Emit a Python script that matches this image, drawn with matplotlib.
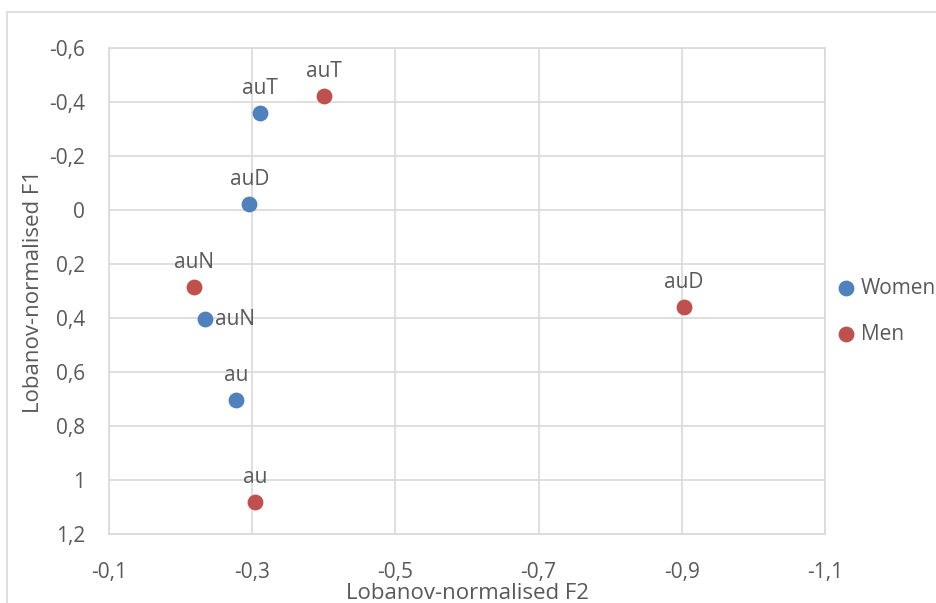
import matplotlib
matplotlib.use('Agg')
import matplotlib.pyplot as plt
from matplotlib.patches import Rectangle
from matplotlib.ticker import FuncFormatter

plt.rcParams['font.family'] = ['Open Sans', 'DejaVu Sans']

# Lobanov-normalised vowel formants
labels = ['au', 'auN', 'auD', 'auT']
women_f2 = [-0.277, -0.234, -0.296, -0.311]
women_f1 = [0.704, 0.404, -0.022, -0.359]
men_f2 = [-0.304, -0.219, -0.903, -0.400]
men_f1 = [1.081, 0.285, 0.359, -0.422]

x_ticks = [-0.1, -0.3, -0.5, -0.7, -0.9, -1.1]
y_ticks = [-0.6, -0.4, -0.2, 0, 0.2, 0.4, 0.6, 0.8, 1.0, 1.2]

blue = '#4F81BD'
red = '#C0504D'
text_grey = '#595959'
grid_grey = '#D9D9D9'


def comma_fmt(v, pos):
    s = '%g' % round(v, 2)
    return s.replace('.', ',')


fig = plt.figure(figsize=(9.37, 6.03), dpi=100)
ax = fig.add_axes([0.1163, 0.1144, 0.7642, 0.8060])

# outer chart border (runs off the right and bottom edge)
fig.patches.append(Rectangle((7 / 937, -0.05), 1.0, 1 - 12 / 603 + 0.05,
                             transform=fig.transFigure, fill=False,
                             edgecolor=grid_grey, lw=1.2))

ax.scatter(women_f2, women_f1, s=130, color=blue, label='Women', zorder=3, linewidths=0)
ax.scatter(men_f2, men_f1, s=130, color=red, label='Men', zorder=3, linewidths=0)

for lab, x, y in zip(labels, women_f2, women_f1):
    if lab == 'auN':
        ax.annotate(lab, (x, y), xytext=(7, 0), textcoords='offset points',
                    ha='left', va='center', fontsize=15, color=text_grey)
    else:
        ax.annotate(lab, (x, y), xytext=(0, 10), textcoords='offset points',
                    ha='center', va='bottom', fontsize=15, color=text_grey)

for lab, x, y in zip(labels, men_f2, men_f1):
    ax.annotate(lab, (x, y), xytext=(0, 10), textcoords='offset points',
                ha='center', va='bottom', fontsize=15, color=text_grey)

ax.set_xlim(-0.1, -1.1)
ax.set_ylim(1.2, -0.6)
ax.set_xticks(x_ticks)
ax.set_yticks(y_ticks)
ax.xaxis.set_major_formatter(FuncFormatter(comma_fmt))
ax.yaxis.set_major_formatter(FuncFormatter(comma_fmt))
ax.tick_params(length=0, labelsize=15, labelcolor=text_grey)
ax.tick_params(axis='y', pad=17)
ax.tick_params(axis='x', pad=20)

ax.grid(True, color=grid_grey, lw=1.2)
ax.set_axisbelow(True)
for sp in ax.spines.values():
    sp.set_color(grid_grey)
    sp.set_linewidth(1.2)

ax.set_xlabel('Lobanov-normalised F2', fontsize=16, color=text_grey, labelpad=0)
ax.set_ylabel('Lobanov-normalised F1', fontsize=16, color=text_grey, labelpad=4)

ax.legend(loc='center left', bbox_to_anchor=(0.995, 0.458), frameon=False,
          fontsize=15, labelcolor=text_grey, handlelength=0.8,
          handletextpad=0.3, labelspacing=1.2, borderaxespad=0.4)

fig.savefig('out.png', dpi=100)
